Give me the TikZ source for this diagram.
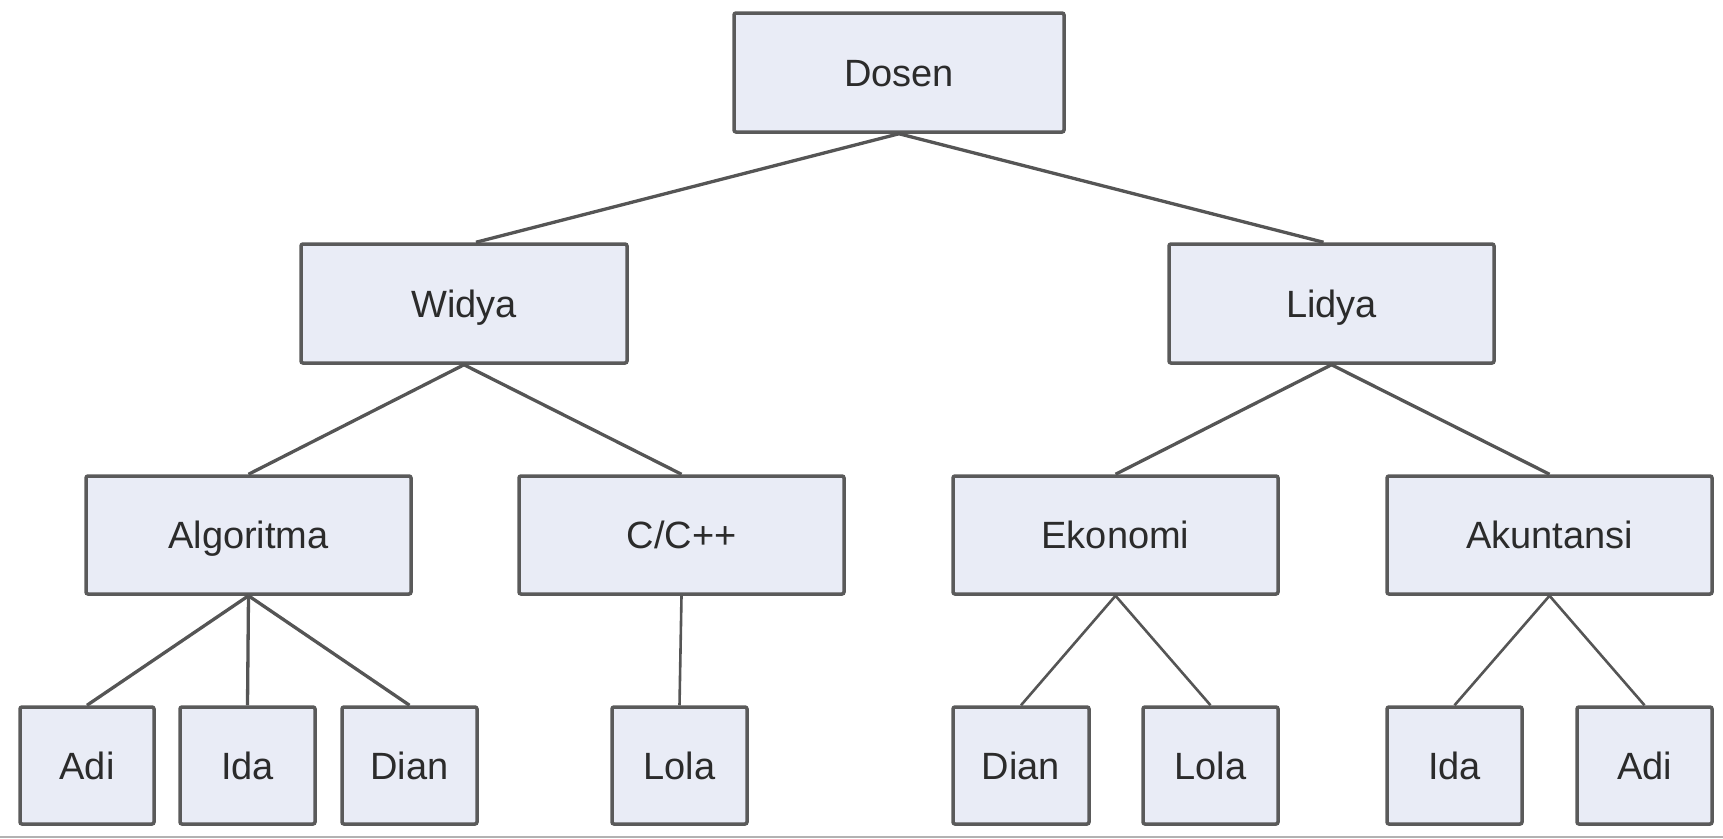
\documentclass[tikz,border=0pt]{standalone}
\usepackage{fontspec}
\setmainfont{Liberation Sans}
\definecolor{boxfill}{HTML}{E9ECF6}
\definecolor{boxline}{HTML}{5A5A5A}
\definecolor{txt}{HTML}{2B2B2B}
\definecolor{edge}{HTML}{555555}
\begin{document}
\begin{tikzpicture}[x=1pt,y=-1pt,
  box/.style={draw=boxline,fill=boxfill,line width=3.5pt,rounded corners=2pt,
    inner sep=0pt,text=txt,text height=27pt,text depth=0pt,
    font=\fontsize{38}{44}\selectfont},
  link/.style={draw=edge,line width=3.3pt},
  thinlink/.style={draw=edge,line width=2.6pt}]
\useasboundingbox (0,0) rectangle (1723,838);
\newcommand{\bx}[6]{\node[box,minimum width={#4-#2},minimum height={#5-#3}] (#1) at ({(#2+#4)/2},{(#3+#5)/2}) {#6};}
\bx{dosen}{734}{13}{1064}{132}{Dosen}
\bx{widya}{301}{244}{627}{363}{Widya}
\bx{lidya}{1169}{244}{1494}{363}{Lidya}
\bx{algo}{86}{476}{411}{594}{Algoritma}
\bx{cpp}{519}{476}{844}{594}{C/C++}
\bx{eko}{953}{476}{1278}{594}{Ekonomi}
\bx{aku}{1387}{476}{1712}{594}{Akuntansi}
\bx{adiA}{20}{707}{154}{824}{Adi}
\bx{idaA}{180}{707}{315}{824}{Ida}
\bx{dianA}{342}{707}{477}{824}{Dian}
\bx{lolaC}{612}{707}{747}{824}{Lola}
\bx{dianE}{953}{707}{1089}{824}{Dian}
\bx{lolaE}{1143}{707}{1278}{824}{Lola}
\bx{idaK}{1387}{707}{1522}{824}{Ida}
\bx{adiK}{1577}{707}{1712}{824}{Adi}
\draw[link] (dosen.south) -- ([xshift=12pt]widya.north);
\draw[link] (dosen.south) -- ([xshift=-8pt]lidya.north);
\draw[link] (widya.south) -- (algo.north);
\draw[link] (widya.south) -- (cpp.north);
\draw[link] (lidya.south) -- (eko.north);
\draw[link] (lidya.south) -- (aku.north);
\draw[link] (algo.south) -- (adiA.north);
\draw[link] (algo.south) -- (idaA.north);
\draw[link] (algo.south) -- (dianA.north);
\draw[thinlink] (cpp.south) -- (lolaC.north);
\draw[thinlink] (eko.south) -- (dianE.north);
\draw[thinlink] (eko.south) -- (lolaE.north);
\draw[thinlink] (aku.south) -- (idaK.north);
\draw[thinlink] (aku.south) -- (adiK.north);
\coordinate (bl) at (0,836.5);
\coordinate (br) at (1723,836.5);
\draw[draw=gray!60,line width=2pt] (bl) -- (br);
\end{tikzpicture}
\end{document}
